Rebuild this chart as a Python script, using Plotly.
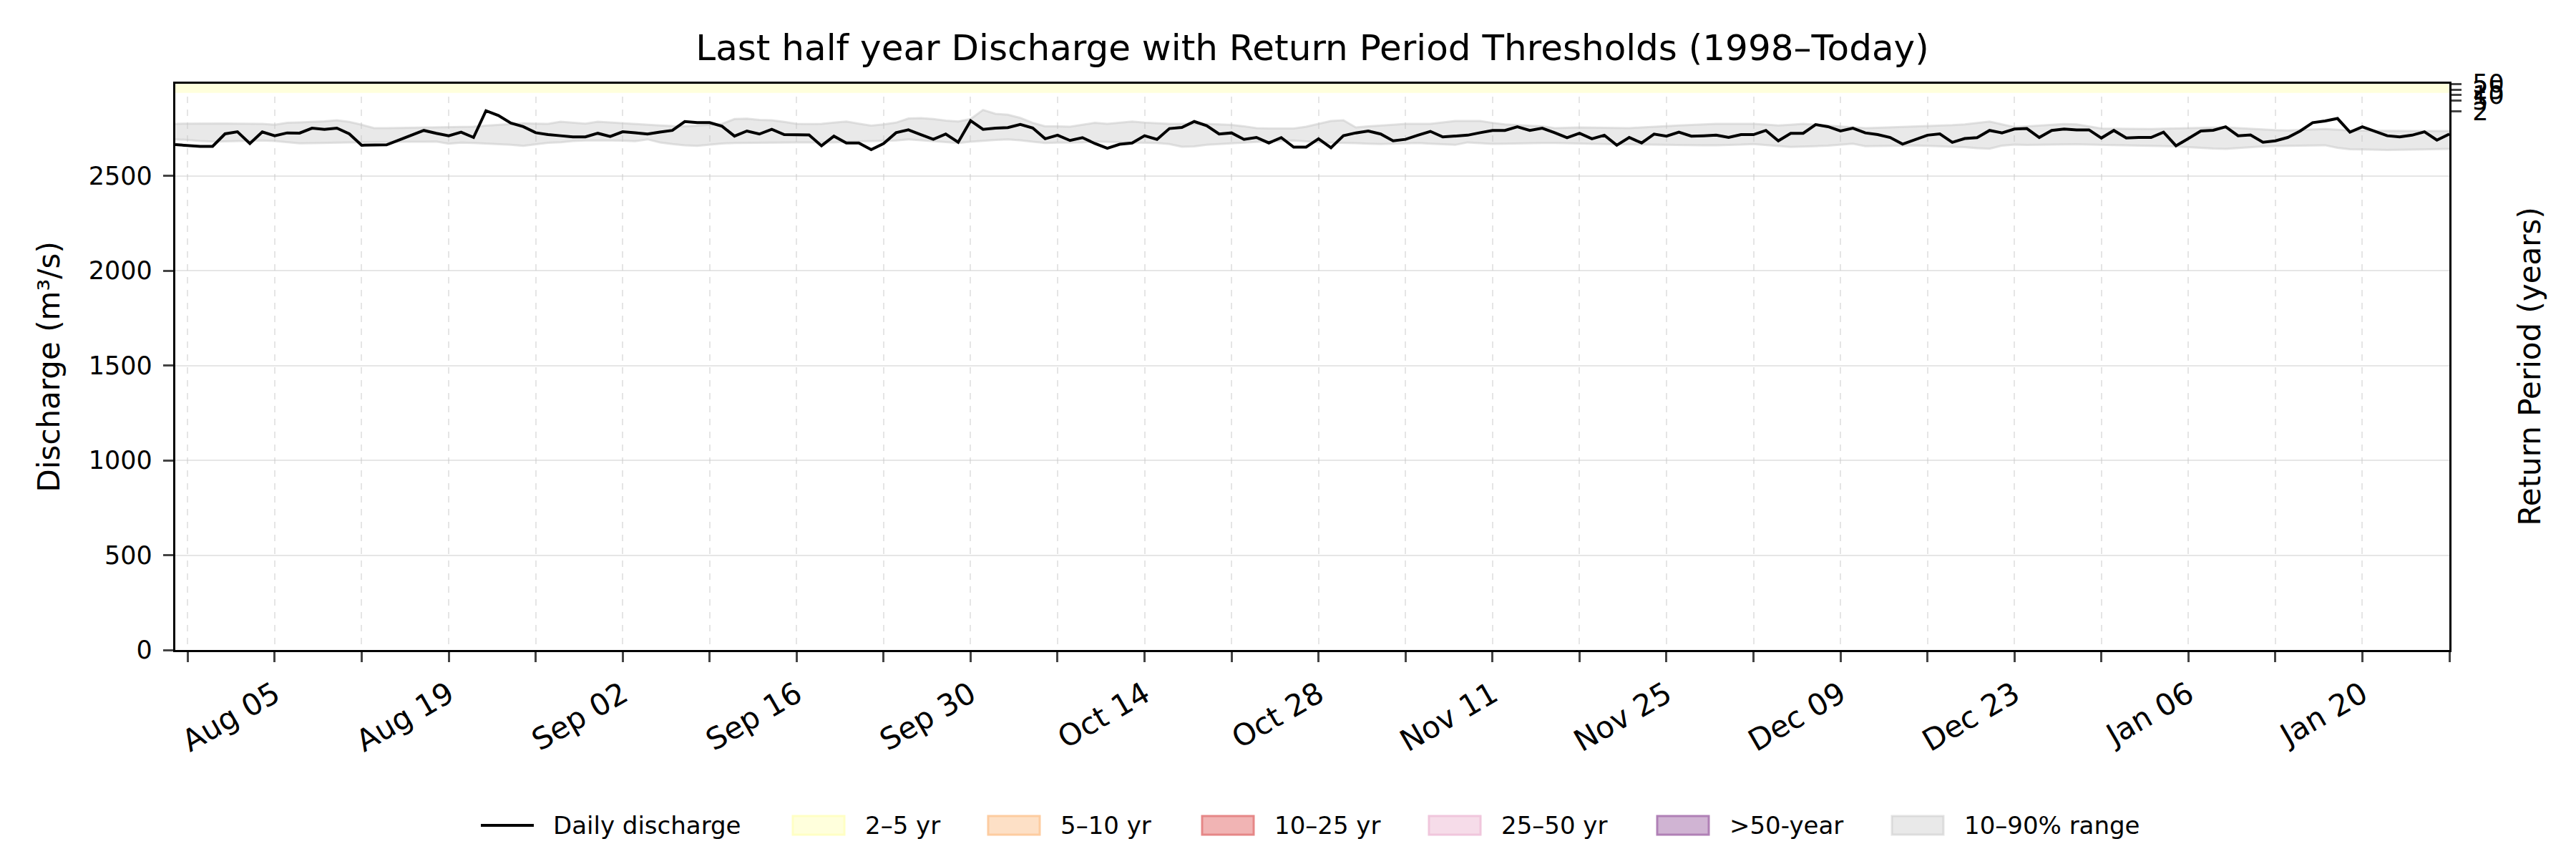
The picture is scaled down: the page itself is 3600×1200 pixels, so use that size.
import pandas as pd
import plotly.graph_objects as go

# daily discharge, last half year (m3/s)
start_date = "2024-07-28"
discharge = [
    2665, 2660, 2656, 2656, 2722, 2733, 2671, 2732, 2712, 2727,
    2726, 2752, 2746, 2752, 2722, 2662, 2663, 2664, 2689, 2716,
    2740, 2725, 2712, 2731, 2703, 2844, 2819, 2779, 2760, 2728,
    2718, 2712, 2706, 2706, 2725, 2708, 2733, 2728, 2721, 2731,
    2740, 2787, 2781, 2781, 2762, 2710, 2737, 2721, 2746, 2718,
    2716, 2716, 2659, 2710, 2674, 2674, 2639, 2671, 2728, 2743,
    2718, 2693, 2721, 2678, 2791, 2746, 2752, 2755, 2772, 2753,
    2696, 2715, 2687, 2702, 2671, 2646, 2667, 2674, 2712, 2693,
    2750, 2756, 2787, 2765, 2721, 2727, 2693, 2703, 2674, 2702,
    2652, 2652, 2696, 2649, 2712, 2727, 2737, 2721, 2685, 2693,
    2715, 2735, 2706, 2710, 2715, 2728, 2740, 2740, 2759, 2740,
    2752, 2728, 2702, 2725, 2696, 2715, 2662, 2703, 2674, 2721,
    2710, 2731, 2710, 2712, 2715, 2703, 2718, 2718, 2740, 2685,
    2725, 2725, 2771, 2760, 2737, 2752, 2727, 2718, 2703, 2668,
    2691, 2715, 2722, 2677, 2697, 2702, 2740, 2727, 2747, 2750,
    2703, 2740, 2747, 2743, 2743, 2700, 2740, 2700, 2703, 2703,
    2731, 2659, 2697, 2737, 2741, 2759, 2712, 2716, 2678, 2685,
    2703, 2737, 2781, 2790, 2803, 2731, 2759, 2735, 2712, 2706,
    2715, 2733, 2689, 2721,
]

# climatological 10% / 90% discharge for the same calendar days
q90 = [
    2775, 2776, 2777, 2776, 2777, 2776, 2775, 2775, 2770, 2780,
    2782, 2784, 2788, 2794, 2785, 2770, 2752, 2752, 2753, 2754,
    2755, 2755, 2756, 2757, 2760, 2765, 2770, 2774, 2778, 2776,
    2775, 2786, 2782, 2776, 2786, 2782, 2776, 2772, 2769, 2766,
    2763, 2762, 2765, 2770, 2775, 2800, 2802, 2796, 2794, 2785,
    2775, 2774, 2775, 2781, 2787, 2776, 2765, 2772, 2781, 2803,
    2805, 2800, 2792, 2787, 2800, 2848, 2828, 2823, 2806, 2780,
    2762, 2762, 2760, 2770, 2780, 2775, 2782, 2787, 2781, 2778,
    2775, 2775, 2775, 2775, 2772, 2769, 2762, 2752, 2750, 2750,
    2750, 2760, 2775, 2790, 2794, 2756, 2762, 2765, 2770, 2775,
    2775, 2775, 2782, 2790, 2790, 2790, 2780, 2772, 2768, 2765,
    2762, 2752, 2755, 2756, 2755, 2754, 2753, 2752, 2756, 2760,
    2763, 2766, 2769, 2772, 2775, 2775, 2775, 2775, 2771, 2766,
    2770, 2775, 2770, 2766, 2762, 2758, 2752, 2754, 2756, 2758,
    2760, 2762, 2765, 2768, 2772, 2780, 2787, 2772, 2758, 2762,
    2766, 2770, 2774, 2772, 2760, 2750, 2749, 2748, 2747, 2747,
    2749, 2751, 2752, 2753, 2755, 2756, 2752, 2748, 2744, 2742,
    2740, 2743, 2746, 2747, 2744, 2740, 2739, 2738, 2737, 2737,
    2737, 2737, 2737, 2737,
]
q10 = [
    2693, 2690, 2684, 2681, 2682, 2684, 2686, 2687, 2684, 2678,
    2672, 2673, 2675, 2676, 2677, 2678, 2679, 2680, 2681, 2680,
    2680, 2681, 2670, 2676, 2674, 2671, 2668, 2664, 2659, 2668,
    2675, 2678, 2684, 2687, 2688, 2687, 2686, 2683, 2693, 2677,
    2668, 2662, 2659, 2665, 2671, 2674, 2675, 2676, 2677, 2677,
    2677, 2677, 2677, 2677, 2680, 2682, 2684, 2686, 2687, 2693,
    2688, 2682, 2677, 2674, 2680, 2686, 2690, 2693, 2688, 2680,
    2674, 2676, 2677, 2677, 2681, 2679, 2677, 2676, 2675, 2674,
    2668, 2654, 2656, 2664, 2668, 2673, 2676, 2679, 2682, 2685,
    2687, 2682, 2677, 2676, 2675, 2673, 2670, 2668, 2670, 2673,
    2674, 2670, 2667, 2664, 2677, 2673, 2669, 2670, 2672, 2673,
    2674, 2674, 2672, 2671, 2670, 2668, 2667, 2666, 2665, 2664,
    2664, 2663, 2663, 2662, 2662, 2663, 2665, 2668, 2664, 2658,
    2653, 2654, 2657, 2660, 2666, 2670, 2657, 2658, 2660, 2662,
    2661, 2659, 2657, 2656, 2652, 2646, 2644, 2660, 2665, 2663,
    2664, 2666, 2668, 2667, 2665, 2664, 2663, 2662, 2660, 2659,
    2658, 2656, 2652, 2648, 2645, 2643, 2648, 2652, 2656, 2658,
    2659, 2660, 2661, 2662, 2648, 2641, 2640, 2638, 2637, 2638,
    2639, 2640, 2642, 2643,
]

# return period thresholds (m3/s)
rp_labels = ["2", "5", "10", "25", "50"]
rp_values = [2938, 2998, 3029, 3055, 3089]

band_names = ["2–5 yr", "5–10 yr", "10–25 yr", "25–50 yr", ">50-year"]
band_fill = ["rgb(255,255,220)", "rgb(253,224,198)", "rgb(241,180,180)",
             "rgb(246,220,233)", "rgb(208,180,211)"]
band_edge = ["rgb(255,255,196)", "rgb(253,204,160)", "rgb(230,135,135)",
             "rgb(240,198,220)", "rgb(176,128,182)"]
range_fill = "rgba(200,200,200,0.4)"
range_edge = "rgba(200,200,200,0.5)"

dates = pd.date_range(start_date, periods=len(discharge), freq="D")
ymax = max(discharge) * 1.05

W, H = 3600, 1200
L, R, T, B = 237, 185, 109, 300
pw, ph = W - L - R, H - T - B


def px_x(x):
    return (x - L) / pw


def px_y(y):
    return (H - B - y) / ph


fig = go.Figure()

# return period bands (everything above the 2-yr level sits off the top)
band_tops = rp_values[1:] + [rp_values[-1] * 1.1]
for name, lo, hi, fc, ec in zip(band_names, rp_values, band_tops, band_fill, band_edge):
    fig.add_trace(go.Scatter(x=dates, y=[lo] * len(dates), mode="lines",
                             line=dict(width=0), hoverinfo="skip"))
    fig.add_trace(go.Scatter(x=dates, y=[hi] * len(dates), mode="lines",
                             line=dict(width=2, color=ec), fill="tonexty",
                             fillcolor=fc, name=name))

# 10-90% range
fig.add_trace(go.Scatter(x=dates, y=q10, mode="lines",
                         line=dict(width=3, color=range_edge), hoverinfo="skip"))
fig.add_trace(go.Scatter(x=dates, y=q90, mode="lines",
                         line=dict(width=3, color=range_edge),
                         fill="tonexty", fillcolor=range_fill, name="10–90% range"))

fig.add_trace(go.Scatter(x=dates, y=discharge, mode="lines",
                         line=dict(color="black", width=4), name="Daily discharge"))

# invisible trace to carry the right axis
fig.add_trace(go.Scatter(x=[dates[0]], y=[0], yaxis="y2", mode="markers",
                         marker=dict(opacity=0), hoverinfo="skip"))

# matplotlib-style legend row under the axes
leg_names = ["Daily discharge"] + band_names + ["10–90% range"]
leg_fill = [None] + band_fill + [range_fill]
leg_edge = ["black"] + band_edge + [range_edge]
leg_left = [664, 1100, 1373, 1672, 1989, 2308, 2636]
leg_mid = 1145
shapes, annotations = [], []
for name, fc, ec, x0 in zip(leg_names, leg_fill, leg_edge, leg_left):
    if fc is None:
        shapes.append(dict(type="line", xref="paper", yref="paper",
                           x0=px_x(x0), x1=px_x(x0 + 74), y0=px_y(leg_mid), y1=px_y(leg_mid),
                           line=dict(color=ec, width=4)))
    else:
        shapes.append(dict(type="rect", xref="paper", yref="paper",
                           x0=px_x(x0), x1=px_x(x0 + 72),
                           y0=px_y(leg_mid + 13), y1=px_y(leg_mid - 13),
                           fillcolor=fc, line=dict(color=ec, width=3)))
    annotations.append(dict(text=name, xref="paper", yref="paper",
                            x=px_x(x0 + 99), y=px_y(leg_mid), xanchor="left",
                            yanchor="middle", showarrow=False, font=dict(size=34)))

annotations += [
    dict(text="Discharge (m³/s)", xref="paper", yref="paper", x=px_x(60), y=0.5,
         textangle=-90, showarrow=False, font=dict(size=42),
         xanchor="center", yanchor="middle"),
    dict(text="Return Period (years)", xref="paper", yref="paper", x=px_x(3527), y=0.5,
         textangle=-90, showarrow=False, font=dict(size=42),
         xanchor="center", yanchor="middle"),
]

grid_dash = "rgba(180,180,180,0.35)"
fig.update_layout(
    width=W, height=H,
    margin=dict(l=L, r=R, t=T, b=B),
    plot_bgcolor="white", paper_bgcolor="white",
    font=dict(family="DejaVu Sans", size=34, color="black"),
    title=dict(text="Last half year Discharge with Return Period Thresholds (1998–Today)",
               x=0.5, xref="paper", y=1 - 58 / H, yanchor="middle",
               font=dict(size=50)),
    showlegend=False,
    xaxis=dict(
        range=[dates[0], dates[-1]],
        tickformat="%b %d", tick0="2024-08-05", dtick=14 * 86400000,
        tickangle=-30, ticks="outside", ticklen=14, tickwidth=3,
        tickfont=dict(size=42), ticklabelstandoff=4,
        showgrid=True, gridcolor=grid_dash, griddash="dash", gridwidth=2,
        minor=dict(tick0="2024-07-29", dtick=7 * 86400000, showgrid=True,
                   gridcolor=grid_dash, griddash="dash", gridwidth=2,
                   ticks="outside", ticklen=14, tickwidth=3),
        showline=True, linecolor="black", linewidth=3.3, mirror=True,
        zeroline=False,
    ),
    yaxis=dict(
        range=[0, ymax], dtick=500, ticks="outside", ticklen=14, tickwidth=3,
        tickfont=dict(size=35), ticklabelstandoff=8,
        showgrid=True, gridcolor="rgba(200,200,200,0.45)", gridwidth=2,
        showline=True, linecolor="black", linewidth=3.3, mirror=True,
        zeroline=False,
    ),
    yaxis2=dict(
        overlaying="y", side="right", range=[0, rp_values[-1]],
        tickmode="array", tickvals=rp_values, ticktext=rp_labels,
        ticks="outside", ticklen=14, tickwidth=3, showgrid=False,
        tickfont=dict(size=35), ticklabelstandoff=8,
        showline=True, linecolor="black", linewidth=3.3, zeroline=False,
    ),
    shapes=shapes,
    annotations=annotations,
)

fig.write_html("out.html")
